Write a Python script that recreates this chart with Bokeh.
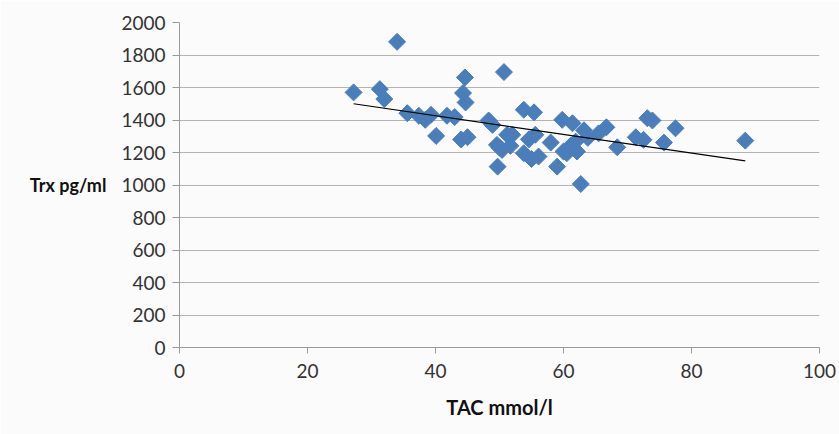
import math
from bokeh.plotting import figure
from bokeh.models import FixedTicker, Range1d, ColumnDataSource
from bokeh.embed import file_html
from bokeh.resources import INLINE

# TAC (mmol/l) vs Trx (pg/ml)
tac = [27.2, 31.3, 32.0, 34.0, 35.6, 37.4, 38.4, 39.3, 40.1, 41.8, 43.0,
       44.6, 44.3, 44.7, 44.0, 45.0, 48.3, 48.9, 49.6, 49.7, 50.4, 50.7,
       51.2, 52.0, 51.7, 53.8, 55.4, 53.8, 54.6, 55.6, 56.1, 58.0, 59.0,
       59.8, 61.4, 60.0, 61.1, 61.9, 62.1, 62.7, 63.2, 65.5, 66.7, 68.4,
       71.3, 72.5, 73.1, 73.9, 75.7, 77.5, 88.4, 50.0, 55.0, 60.5, 63.8]
trx = [1570, 1590, 1529, 1881, 1442, 1426, 1401, 1432, 1302, 1426, 1418,
       1662, 1566, 1508, 1280, 1294, 1397, 1370, 1247, 1113, 1216, 1695,
       1309, 1309, 1241, 1463, 1447, 1196, 1281, 1309, 1175, 1261, 1113,
       1401, 1380, 1206, 1241, 1267, 1206, 1006, 1337, 1318, 1355, 1232,
       1294, 1278, 1411, 1397, 1261, 1349, 1273, 1230, 1160, 1195, 1290]

# linear trend line end points as drawn in the reference
trend_x = [27.2, 88.4]
trend_y = [1500, 1148]

x_ticks = [0, 20, 40, 60, 80, 100]
y_ticks = [0, 200, 400, 600, 800, 1000, 1200, 1400, 1600, 1800, 2000]

FONT = "Lato"
BG = "#fbfbfb"

p = figure(width=839, height=434, output_backend="svg", toolbar_location=None,
           x_range=Range1d(0, 100), y_range=Range1d(0, 2000),
           min_border_left=179, min_border_right=20, min_border_top=22,
           min_border_bottom=87)
p.background_fill_color = BG
p.border_fill_color = BG
p.outline_line_color = None

p.xgrid.grid_line_color = None
p.ygrid.grid_line_color = "#b4b4b4"
p.ygrid.grid_line_width = 1
p.ygrid.ticker = FixedTicker(ticks=y_ticks)

p.xaxis.ticker = FixedTicker(ticks=x_ticks)
p.yaxis.ticker = FixedTicker(ticks=y_ticks)
for ax in (p.xaxis[0], p.yaxis[0]):
    ax.axis_line_color = "#9a9a9a"
    ax.major_tick_line_color = "#9a9a9a"
    ax.minor_tick_line_color = None
    ax.major_tick_in = 0
    ax.major_label_text_font = FONT
    ax.major_label_text_font_size = "19px"
    ax.major_label_text_color = "#333333"
    ax.axis_label_text_font = FONT
    ax.axis_label_text_font_style = "bold"
    ax.axis_label_text_color = "#111111"

p.xaxis.major_tick_out = 6
p.yaxis.major_tick_out = 7
p.xaxis.major_label_standoff = 10
p.yaxis.major_label_standoff = 7
p.xaxis.axis_label = "TAC mmol/l"
p.xaxis.axis_label_text_font_size = "20px"
p.xaxis.axis_label_standoff = 14
p.yaxis.axis_label = "Trx pg/ml"
p.yaxis.axis_label_text_font_size = "18px"
p.yaxis.axis_label_orientation = "horizontal"
p.yaxis.axis_label_standoff = 12

src = ColumnDataSource(data=dict(x=tac, y=trx))
p.scatter("x", "y", source=src, marker="square", size=12, angle=math.pi / 4,
          fill_color="#4a7ebb", line_color="#4a7ebb", line_width=1)
p.line(trend_x, trend_y, line_color="#000000", line_width=1.2)

open("out.html", "w").write(file_html(p, INLINE))
